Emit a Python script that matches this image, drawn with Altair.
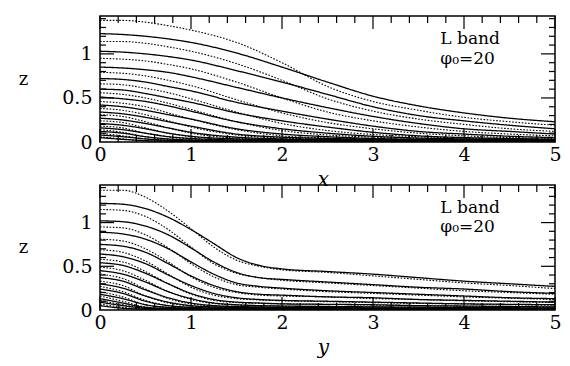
import altair as alt
import pandas as pd

# ---------------- data ----------------
X_TOP = [0, 0.25, 0.5, 0.75, 1, 1.5, 2, 2.5, 3, 3.5, 4, 4.5, 5]
TOP_SOLID = {
    "A": [1.23, 1.22, 1.20, 1.17, 1.13, 1.01, 0.85, 0.68, 0.52, 0.41, 0.33, 0.27, 0.23],
    "B": [1.03, 1.02, 1.00, 0.97, 0.93, 0.81, 0.68, 0.54, 0.40, 0.30, 0.24, 0.19, 0.15],
    "C": [0.85, 0.84, 0.82, 0.79, 0.74, 0.62, 0.50, 0.39, 0.29, 0.21, 0.15, 0.12, 0.09],
    "D": [0.72, 0.71, 0.68, 0.63, 0.58, 0.45, 0.35, 0.26, 0.18, 0.12, 0.09, 0.065, 0.05],
    "E": [0.60, 0.59, 0.55, 0.50, 0.45, 0.33, 0.24, 0.17, 0.11, 0.07, 0.05, 0.04, 0.03],
    "F": [0.51, 0.49, 0.46, 0.41, 0.35, 0.23, 0.15, 0.10, 0.065, 0.045, 0.035, 0.03, 0.025],
    "G": [0.42, 0.40, 0.36, 0.31, 0.26, 0.15, 0.09, 0.06, 0.04, 0.03, 0.025, 0.02, 0.02],
    "H": [0.34, 0.32, 0.28, 0.23, 0.18, 0.09, 0.055, 0.04, 0.03, 0.025, 0.02, 0.017, 0.015],
    "I": [0.27, 0.25, 0.21, 0.16, 0.11, 0.055, 0.035, 0.028, 0.022, 0.018, 0.015, 0.013, 0.012],
    "J": [0.21, 0.19, 0.15, 0.10, 0.065, 0.035, 0.025, 0.02, 0.016, 0.013, 0.011, 0.01, 0.009],
    "K": [0.16, 0.14, 0.10, 0.06, 0.04, 0.022, 0.016, 0.013, 0.011, 0.009, 0.008, 0.007, 0.006],
    "L": [0.12, 0.10, 0.06, 0.035, 0.022, 0.014, 0.01, 0.008, 0.007, 0.006, 0.005, 0.005, 0.004],
    "M": [0.08, 0.06, 0.035, 0.02, 0.013, 0.008, 0.006, 0.005, 0.004, 0.004, 0.003, 0.003, 0.003],
    "N": [0.05, 0.03, 0.015, 0.01, 0.007, 0.005, 0.004, 0.003, 0.003, 0.002, 0.002, 0.002, 0.002],
}
TOP_DOTTED = {
    "A": [1.38, 1.38, 1.36, 1.32, 1.27, 1.13, 0.90, 0.63, 0.46, 0.36, 0.28, 0.23, 0.19],
    "B": [1.14, 1.14, 1.12, 1.08, 1.03, 0.89, 0.70, 0.49, 0.35, 0.26, 0.20, 0.15, 0.12],
    "C": [0.95, 0.94, 0.92, 0.88, 0.83, 0.68, 0.50, 0.34, 0.24, 0.17, 0.12, 0.09, 0.07],
    "D": [0.79, 0.78, 0.75, 0.70, 0.64, 0.48, 0.33, 0.22, 0.15, 0.10, 0.07, 0.05, 0.04],
    "E": [0.66, 0.65, 0.61, 0.56, 0.49, 0.34, 0.21, 0.13, 0.085, 0.06, 0.045, 0.035, 0.03],
    "F": [0.56, 0.54, 0.50, 0.44, 0.37, 0.23, 0.13, 0.08, 0.055, 0.04, 0.03, 0.025, 0.02],
    "G": [0.46, 0.44, 0.40, 0.33, 0.26, 0.14, 0.07, 0.045, 0.035, 0.028, 0.023, 0.02, 0.018],
    "H": [0.38, 0.36, 0.31, 0.24, 0.17, 0.08, 0.045, 0.032, 0.026, 0.021, 0.018, 0.016, 0.014],
    "I": [0.31, 0.29, 0.23, 0.16, 0.10, 0.045, 0.03, 0.024, 0.02, 0.016, 0.014, 0.012, 0.011],
    "J": [0.24, 0.22, 0.16, 0.10, 0.06, 0.03, 0.022, 0.018, 0.015, 0.012, 0.01, 0.009, 0.008],
    "K": [0.18, 0.16, 0.10, 0.06, 0.035, 0.02, 0.015, 0.012, 0.01, 0.008, 0.007, 0.006, 0.005],
    "L": [0.14, 0.11, 0.06, 0.03, 0.02, 0.012, 0.009, 0.007, 0.006, 0.005, 0.005, 0.004, 0.004],
    "M": [0.10, 0.07, 0.035, 0.018, 0.012, 0.007, 0.005, 0.004, 0.004, 0.003, 0.003, 0.003, 0.003],
    "N": [0.06, 0.035, 0.015, 0.008, 0.006, 0.004, 0.003, 0.003, 0.002, 0.002, 0.002, 0.002, 0.002],
}

X_BOT = [0, 0.25, 0.5, 0.75, 1, 1.25, 1.5, 1.75, 2, 2.5, 3, 3.5, 4, 4.5, 5]
BOT_SOLID = {
    "A": [1.22, 1.21, 1.16, 1.06, 0.92, 0.76, 0.60, 0.51, 0.47, 0.44, 0.41, 0.37, 0.33, 0.30, 0.27],
    "B": [1.02, 1.01, 0.96, 0.86, 0.71, 0.55, 0.43, 0.37, 0.35, 0.32, 0.29, 0.26, 0.24, 0.21, 0.19],
    "C": [0.89, 0.87, 0.81, 0.70, 0.55, 0.41, 0.31, 0.27, 0.25, 0.22, 0.20, 0.18, 0.16, 0.14, 0.13],
    "D": [0.75, 0.73, 0.66, 0.53, 0.39, 0.28, 0.21, 0.18, 0.17, 0.15, 0.14, 0.12, 0.11, 0.10, 0.09],
    "E": [0.64, 0.61, 0.53, 0.40, 0.28, 0.19, 0.14, 0.12, 0.11, 0.10, 0.09, 0.08, 0.07, 0.065, 0.06],
    "F": [0.54, 0.51, 0.42, 0.30, 0.19, 0.12, 0.09, 0.08, 0.07, 0.065, 0.06, 0.05, 0.045, 0.04, 0.035],
    "G": [0.45, 0.41, 0.32, 0.21, 0.13, 0.08, 0.06, 0.05, 0.045, 0.04, 0.036, 0.032, 0.029, 0.026, 0.024],
    "H": [0.37, 0.33, 0.23, 0.14, 0.08, 0.05, 0.04, 0.035, 0.03, 0.027, 0.024, 0.021, 0.019, 0.017, 0.015],
    "I": [0.30, 0.25, 0.16, 0.09, 0.05, 0.035, 0.03, 0.025, 0.022, 0.019, 0.017, 0.015, 0.013, 0.012, 0.011],
    "J": [0.24, 0.19, 0.10, 0.05, 0.03, 0.022, 0.018, 0.016, 0.014, 0.012, 0.011, 0.01, 0.009, 0.008, 0.007],
    "K": [0.18, 0.13, 0.06, 0.03, 0.02, 0.015, 0.012, 0.01, 0.009, 0.008, 0.007, 0.006, 0.006, 0.005, 0.005],
    "L": [0.13, 0.08, 0.03, 0.018, 0.012, 0.009, 0.008, 0.007, 0.006, 0.005, 0.005, 0.004, 0.004, 0.004, 0.003],
    "M": [0.09, 0.05, 0.02, 0.01, 0.007, 0.006, 0.005, 0.004, 0.004, 0.003, 0.003, 0.003, 0.003, 0.002, 0.002],
    "N": [0.05, 0.02, 0.01, 0.006, 0.004, 0.003, 0.003, 0.002, 0.002, 0.002, 0.002, 0.002, 0.001, 0.001, 0.001],
}
BOT_DOTTED = {
    "A": [1.37, 1.37, 1.29, 1.13, 0.93, 0.72, 0.57, 0.50, 0.46, 0.43, 0.39, 0.35, 0.31, 0.28, 0.245],
    "B": [1.15, 1.14, 1.07, 0.92, 0.72, 0.53, 0.42, 0.37, 0.34, 0.31, 0.28, 0.25, 0.22, 0.20, 0.18],
    "C": [0.95, 0.94, 0.86, 0.71, 0.53, 0.38, 0.29, 0.26, 0.24, 0.21, 0.19, 0.17, 0.15, 0.135, 0.12],
    "D": [0.81, 0.79, 0.70, 0.55, 0.38, 0.26, 0.20, 0.17, 0.16, 0.15, 0.13, 0.12, 0.105, 0.095, 0.085],
    "E": [0.69, 0.66, 0.56, 0.41, 0.26, 0.17, 0.13, 0.115, 0.105, 0.095, 0.085, 0.075, 0.07, 0.06, 0.055],
    "F": [0.58, 0.55, 0.44, 0.30, 0.18, 0.11, 0.085, 0.075, 0.07, 0.062, 0.056, 0.05, 0.044, 0.04, 0.035],
    "G": [0.49, 0.45, 0.34, 0.21, 0.12, 0.075, 0.058, 0.05, 0.045, 0.04, 0.036, 0.032, 0.028, 0.025, 0.023],
    "H": [0.41, 0.36, 0.24, 0.13, 0.07, 0.047, 0.038, 0.033, 0.03, 0.026, 0.023, 0.02, 0.018, 0.016, 0.015],
    "I": [0.33, 0.28, 0.16, 0.08, 0.045, 0.033, 0.027, 0.024, 0.021, 0.018, 0.016, 0.014, 0.013, 0.012, 0.011],
    "J": [0.27, 0.21, 0.11, 0.05, 0.03, 0.022, 0.018, 0.016, 0.014, 0.012, 0.011, 0.01, 0.009, 0.008, 0.007],
    "K": [0.21, 0.15, 0.06, 0.03, 0.02, 0.015, 0.012, 0.01, 0.009, 0.008, 0.007, 0.006, 0.006, 0.005, 0.005],
    "L": [0.16, 0.10, 0.035, 0.018, 0.012, 0.009, 0.008, 0.007, 0.006, 0.005, 0.005, 0.004, 0.004, 0.004, 0.003],
    "M": [0.11, 0.06, 0.02, 0.01, 0.007, 0.006, 0.005, 0.004, 0.004, 0.003, 0.003, 0.003, 0.003, 0.002, 0.002],
    "N": [0.07, 0.03, 0.01, 0.006, 0.004, 0.003, 0.003, 0.002, 0.002, 0.002, 0.002, 0.002, 0.001, 0.001, 0.001],
}

X_LABELS = [0, 1, 2, 3, 4, 5]
X_MINOR = [0.2, 0.4, 0.6, 0.8, 1.2, 1.4, 1.6, 1.8, 2.2, 2.4, 2.6, 2.8,
           3.2, 3.4, 3.6, 3.8, 4.2, 4.4, 4.6, 4.8]
Z_LABELS = [0, 0.5, 1]
Z_MAJOR = [0.5, 1.0]
Z_MINOR = [0.1, 0.2, 0.3, 0.4, 0.6, 0.7, 0.8, 0.9, 1.1, 1.2, 1.3, 1.4]
ANNOT = ["L band", "φ₀=20"]
ANNOT_X = [3.74, 3.74]
ANNOT_Z = [1.115, 0.89]

W, H = 455, 126
FONT = "DejaVu Serif"


def panel(xs, solid, dotted, xtitle, height):
    rows = []
    for style, group in (("solid", solid), ("dotted", dotted)):
        for name, vals in group.items():
            for i, (xv, zv) in enumerate(zip(xs, vals)):
                rows.append({"curve": style + name, "style": style, "x": xv, "z": zv, "i": i})
    df = pd.DataFrame(rows)

    xscale = alt.Scale(domain=[0, 5], nice=False, zero=False)
    zscale = alt.Scale(domain=[0, 1.43], nice=False, zero=False)
    xaxis = alt.Axis(values=X_LABELS, ticks=False, domain=False, grid=False, labelFlush=False,
                     labelFont=FONT, labelFontSize=19, labelColor="black", labelPadding=3,
                     title=xtitle, titleFont=FONT, titleFontSize=20, titleFontStyle="italic",
                     titleFontWeight="normal", titleColor="black", titleX=223, titleY=43,
                     titleBaseline="alphabetic", titleAlign="center")
    zaxis = alt.Axis(values=Z_LABELS, format=".1~f", ticks=False, domain=False, grid=False,
                     labelFlush=False,
                     labelFont=FONT, labelFontSize=19, labelColor="black", labelPadding=8,
                     title="z", titleFont=FONT, titleFontSize=18, titleFontWeight="normal",
                     titleColor="black", titleAngle=0, titleX=-77, titleY=height / 2,
                     titleBaseline="middle", titleAlign="center")

    X = lambda f: alt.X(f, scale=xscale, axis=xaxis)
    Z = lambda f: alt.Y(f, scale=zscale, axis=zaxis)

    lines = alt.Chart(df).mark_line(interpolate="monotone", color="black", clip=True).encode(
        x=X("x:Q"), y=Z("z:Q"), detail="curve:N", order="i:Q",
        strokeDash=alt.StrokeDash("style:N", scale=alt.Scale(domain=["solid", "dotted"],
                                  range=[[1, 0], [1.6, 1.6]]), legend=None),
        strokeWidth=alt.StrokeWidth("style:N", scale=alt.Scale(domain=["solid", "dotted"],
                                    range=[1.3, 1.1]), legend=None),
    )

    layers = [lines]
    for vals, ln in ((X_LABELS, 13), (X_MINOR, 7)):
        d = pd.DataFrame({"x": vals})
        layers.append(alt.Chart(d).mark_rule(color="black", strokeWidth=1.2).encode(
            x=X("x:Q"), y=alt.value(0), y2=alt.value(ln)))
        layers.append(alt.Chart(d).mark_rule(color="black", strokeWidth=1.2).encode(
            x=X("x:Q"), y=alt.value(height), y2=alt.value(height - ln)))
    for vals, ln in ((Z_MAJOR, 14), (Z_MINOR, 6)):
        d = pd.DataFrame({"z": vals})
        layers.append(alt.Chart(d).mark_rule(color="black", strokeWidth=1.2).encode(
            y=Z("z:Q"), x=alt.value(0), x2=alt.value(ln)))
        layers.append(alt.Chart(d).mark_rule(color="black", strokeWidth=1.2).encode(
            y=Z("z:Q"), x=alt.value(W), x2=alt.value(W - ln)))
    ann = pd.DataFrame({"x": ANNOT_X, "z": ANNOT_Z, "t": ANNOT})
    layers.append(alt.Chart(ann).mark_text(font=FONT, fontSize=17, align="left",
                                           baseline="alphabetic", color="black").encode(
        x=X("x:Q"), y=Z("z:Q"), text="t:N"))
    return alt.layer(*layers).properties(width=W, height=height)


top = panel(X_TOP, TOP_SOLID, TOP_DOTTED, "x", H)
bottom = panel(X_BOT, BOT_SOLID, BOT_DOTTED, "y", 125)

chart = alt.vconcat(top, bottom, spacing=43, bounds="flush").configure_view(
    stroke="black", strokeWidth=1.5
).properties(padding={"left": 9, "top": 6, "right": 0, "bottom": 0})

chart.save("out.html", embed_options={"renderer": "svg", "actions": False})
